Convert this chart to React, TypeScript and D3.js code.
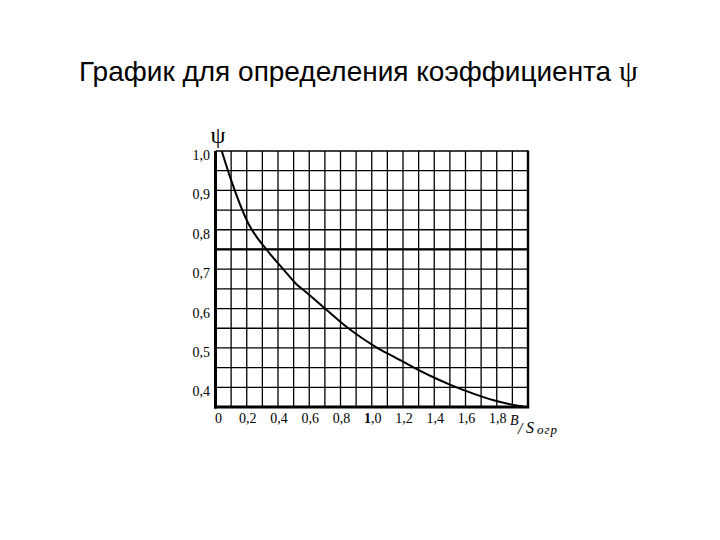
import * as d3 from 'd3';

// graph of psi coefficient vs B/S
const curveX = [0.04, 0.1, 0.21, 0.33, 0.44, 0.51, 0.59, 0.71, 0.84, 0.93, 1.04, 1.14, 1.27, 1.37, 1.5, 1.65, 1.78, 1.91, 1.97];
const curvePsi = [1.0, 0.926, 0.816, 0.748, 0.697, 0.665, 0.638, 0.597, 0.553, 0.527, 0.499, 0.478, 0.45, 0.43, 0.407, 0.384, 0.367, 0.355, 0.351];

const xTicks = [0, 0.2, 0.4, 0.6, 0.8, 1.0, 1.2, 1.4, 1.6, 1.8];
const yTicks = [1.0, 0.9, 0.8, 0.7, 0.6, 0.5, 0.4];
const limitPsi = 0.75;

const fmt = (v: number) => (v === 0 ? '0' : v.toFixed(1).replace('.', ','));

const App = () => {
    const width = 720;
    const height = 540;
    const margin = { top: 151, right: 192, bottom: 133, left: 215.5 };

    const x = d3.scaleLinear().domain([0, 2]).range([margin.left, width - margin.right]);
    const y = d3.scaleLinear().domain([0.35, 1.0]).range([height - margin.bottom, margin.top]);

    const vLines = d3.range(0, 21).map(i => i / 10);
    const hLines = d3.range(0, 14).map(i => 0.35 + i * 0.05);

    const points: [number, number][] = curveX.map((v, i) => [v, curvePsi[i]]);
    const line = d3.line<[number, number]>()
        .x(d => x(d[0]))
        .y(d => y(d[1]))
        .curve(d3.curveMonotoneX);

    const serif = '"Liberation Serif", "Times New Roman", serif';

    return (
        <svg width={width} height={height} style={{ position: 'absolute', left: 0, top: 0, background: '#fff' }}>
            <text x={79} y={81} fontFamily='"Liberation Sans", Arial, sans-serif' fontSize={28} fill='#000'>
                График для определения коэффициента <tspan fontFamily={serif} fontSize={30}>ψ</tspan>
            </text>

            {/* grid */}
            <g stroke='#000' strokeWidth={1.3}>
                {vLines.map(v => (
                    <line key={'v' + v} x1={x(v)} x2={x(v)} y1={y(1.0)} y2={y(0.35)} />
                ))}
                {hLines.map(v => (
                    <line key={'h' + v} x1={x(0)} x2={x(2)} y1={y(v)} y2={y(v)} />
                ))}
            </g>

            {/* heavy lines */}
            <line x1={x(0)} x2={x(2)} y1={y(limitPsi)} y2={y(limitPsi)} stroke='#000' strokeWidth={2.2} />
            <line x1={x(0)} x2={x(0)} y1={y(1.0)} y2={y(0.35) + 1.5} stroke='#000' strokeWidth={3} />
            <line x1={x(0) - 1.5} x2={x(2) + 1.2} y1={y(0.35)} y2={y(0.35)} stroke='#000' strokeWidth={3} />
            <line x1={x(2)} x2={x(2)} y1={y(1.0) - 0.6} y2={y(0.35)} stroke='#000' strokeWidth={2.4} />

            <path d={line(points) || ''} fill='none' stroke='#000' strokeWidth={2} />

            {/* y labels */}
            <g fontFamily={serif} fontSize={14} textAnchor='end'>
                {yTicks.map(v => (
                    <text key={v} x={210} y={y(v) + 9}>{fmt(v)}</text>
                ))}
            </g>

            {/* x labels */}
            <g fontFamily={serif} fontSize={14} textAnchor='middle'>
                {xTicks.map(v => (
                    <text key={v} x={x(v) + (v === 0 ? 3 : 1)} y={423}>
                        {v === 1.0 ? (<><tspan fontWeight='bold'>1</tspan>,0</>) : fmt(v)}
                    </text>
                ))}
            </g>

            {/* axis titles */}
            <text x={218} y={143} fontFamily={serif} fontSize={24} textAnchor='middle'>ψ</text>
            <g fontFamily={serif} fontStyle='italic'>
                <text x={510} y={425} fontSize={14}>B</text>
                <text x={518} y={434} fontSize={16}>/</text>
                <text x={526} y={433} fontSize={16}>S</text>
                <text x={537} y={434} fontSize={13} letterSpacing={1}>огр</text>
            </g>
        </svg>
    );
};

export default App;
